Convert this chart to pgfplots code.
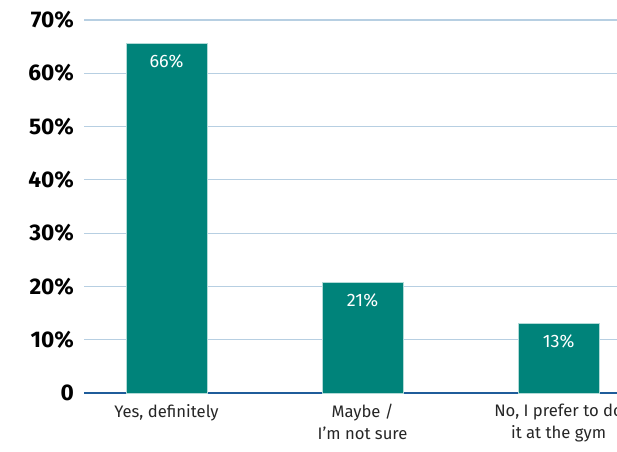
\documentclass[border=0pt]{standalone}
\usepackage{pgfplots}
\pgfplotsset{compat=1.18}
\usepackage{fontspec}
\setmainfont{Fira Sans}
\definecolor{barteal}{HTML}{00837A}
\definecolor{gridblue}{HTML}{B7CFE2}
\definecolor{axisblue}{HTML}{1F5C9A}
\begin{document}
\begin{tikzpicture}
\begin{axis}[
  at={(63pt,-294.75pt)}, anchor=south west,
  scale only axis, width=399.75pt, height=279.75pt,
  xmin=-0.421, xmax=2.298, ymin=0, ymax=70,
  axis x line*=bottom, axis y line*=left,
  x axis line style={draw=axisblue, line width=2.2pt},
  y axis line style={draw=none},
  ymajorgrids, grid style={draw=gridblue, line width=0.8pt},
  ytick={0,10,20,30,40,50,60,70},
  yticklabels={0,10\%,20\%,30\%,40\%,50\%,60\%,70\%},
  yticklabel style={font=\fontsize{17}{17}\selectfont\bfseries, xshift=-4pt},
  xtick={0,1,2}, major tick length=0pt,
  xticklabels={{Yes, definitely},{Maybe /\\I’m not sure},{No, I prefer to do\\it at the gym}},
  xticklabel style={font=\fontsize{12.5}{16.5}\selectfont, align=center, color=black!85, yshift=-5pt},
  ybar, bar width=60.75pt,
  point meta=explicit,
  nodes near coords={\pgfmathprintnumber[assume math mode=true]{\pgfplotspointmeta}\%},
  nodes near coords style={anchor=north, yshift=-5pt, color=white, font=\fontsize{13.5}{14}\selectfont},
]
\addplot[fill=barteal, draw=white!70!barteal, line width=0.4pt] coordinates {(0,65.6) [66] (1,20.7) [21] (2,13) [13]};
\end{axis}
\pgfresetboundingbox
\path[use as bounding box] (0,0) rectangle (462.75pt,-339pt);
\end{tikzpicture}
\end{document}
